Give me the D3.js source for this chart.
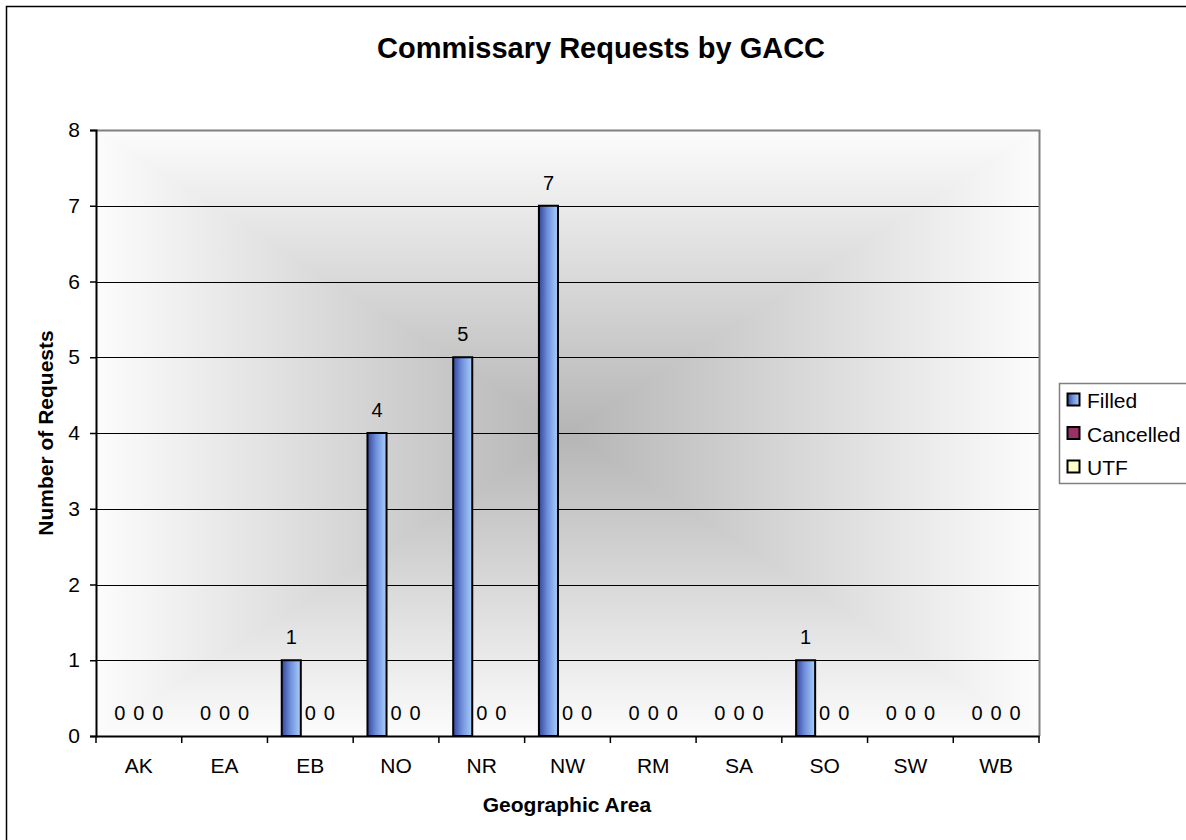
<!DOCTYPE html>
<html>
<head>
<meta charset="utf-8">
<script src="https://cdn.jsdelivr.net/npm/d3@7"></script>
<style>
  html, body { margin: 0; padding: 0; background: #fff; }
  svg { display: block; font-family: Arial, "Liberation Sans", sans-serif; }
</style>
</head>
<body>
<svg id="chart" width="1186" height="840"></svg>
<script>
const categories = ["AK", "EA", "EB", "NO", "NR", "NW", "RM", "SA", "SO", "SW", "WB"];
const seriesNames = ["Filled", "Cancelled", "UTF"];
const filled    = [0, 0, 1, 4, 5, 7, 0, 0, 1, 0, 0];
const cancelled = [0, 0, 0, 0, 0, 0, 0, 0, 0, 0, 0];
const utf       = [0, 0, 0, 0, 0, 0, 0, 0, 0, 0, 0];
const yTicks = [0, 1, 2, 3, 4, 5, 6, 7, 8];
const titleText = "Commissary Requests by GACC";
const xTitle = "Geographic Area";
const yTitle = "Number of Requests";

const seriesValues = [filled, cancelled, utf];
const svg = d3.select("#chart");
const FONT = "Arial, 'Liberation Sans', sans-serif";

// layout
const plot = { left: 96, right: 1039, top: 130, bottom: 736 };

// defs: gradients
const defs = svg.append("defs");
const barGrad = defs.append("linearGradient").attr("id", "barGrad")
  .attr("x1", "0%").attr("x2", "100%").attr("y1", "0%").attr("y2", "0%");
barGrad.append("stop").attr("offset", "0%").attr("stop-color", "#34469a");
barGrad.append("stop").attr("offset", "45%").attr("stop-color", "#6f8fdc");
barGrad.append("stop").attr("offset", "100%").attr("stop-color", "#a9d0fa");

const bgCenter = "#b5b5b5", bgEdge = "#fcfcfc";
function grad(id, x1, y1, x2, y2) {
  const g = defs.append("linearGradient").attr("id", id)
    .attr("x1", x1).attr("y1", y1).attr("x2", x2).attr("y2", y2);
  g.append("stop").attr("offset", "0%").attr("stop-color", bgCenter);
  g.append("stop").attr("offset", "100%").attr("stop-color", bgEdge);
}
grad("gTop", "0%", "100%", "0%", "0%");
grad("gBottom", "0%", "0%", "0%", "100%");
grad("gLeft", "100%", "0%", "0%", "0%");
grad("gRight", "0%", "0%", "100%", "0%");

// outer frame (right/bottom edges fall outside the picture)
svg.append("rect").attr("x", 6.5).attr("y", 6.5).attr("width", 1200).attr("height", 860)
  .attr("fill", "#fff").attr("stroke", "#000").attr("stroke-width", 1.5);

// plot background: rectangular "from center" gradient built from 4 triangles
const cx = (plot.left + plot.right) / 2, cy = (plot.top + plot.bottom) / 2;
const L = plot.left, R = plot.right, T = plot.top, B = plot.bottom;
const bg = svg.append("g");
const tris = [
  { d: `M${L},${T}L${R},${T}L${cx},${cy}Z`, g: "gTop" },
  { d: `M${L},${B}L${R},${B}L${cx},${cy}Z`, g: "gBottom" },
  { d: `M${L},${T}L${L},${B}L${cx},${cy}Z`, g: "gLeft" },
  { d: `M${R},${T}L${R},${B}L${cx},${cy}Z`, g: "gRight" }
];
bg.selectAll("path").data(tris).join("path")
  .attr("d", d => d.d)
  .attr("fill", d => `url(#${d.g})`)
  .attr("stroke", d => `url(#${d.g})`)
  .attr("stroke-width", 1.2)
  .attr("stroke-linejoin", "bevel");

// scales
const y = d3.scaleLinear().domain([0, 8]).range([plot.bottom, plot.top]);
const x0 = d3.scaleBand().domain(categories).range([plot.left, plot.right]).padding(0);
const bw = x0.bandwidth();
const gap = bw * 1.5 / 4.5;
const x1 = d3.scaleBand().domain(seriesNames).range([gap / 2, bw - gap / 2]).padding(0);

// gridlines
svg.append("g").selectAll("line").data(yTicks.filter(d => d > 0 && d < 8)).join("line")
  .attr("x1", plot.left).attr("x2", plot.right)
  .attr("y1", d => Math.round(y(d)) + 0.5).attr("y2", d => Math.round(y(d)) + 0.5)
  .attr("stroke", "#000").attr("stroke-width", 1);

// plot border top/right (gray)
svg.append("path")
  .attr("d", `M${plot.left},${Math.round(y(8)) + 0.5}H${plot.right + 0.5}V${plot.bottom}`)
  .attr("fill", "none").attr("stroke", "#808080").attr("stroke-width", 2);

// bars
const colors = { Filled: "url(#barGrad)", Cancelled: "#993366", UTF: "#ffffcc" };
const barData = [];
categories.forEach((c, i) => {
  seriesNames.forEach((s, j) => barData.push({ cat: c, series: s, value: seriesValues[j][i] }));
});
svg.append("g").selectAll("rect").data(barData.filter(d => d.value > 0)).join("rect")
  .attr("x", d => x0(d.cat) + x1(d.series))
  .attr("y", d => y(d.value))
  .attr("width", x1.bandwidth())
  .attr("height", d => y(0) - y(d.value))
  .attr("fill", d => colors[d.series])
  .attr("stroke", "#000").attr("stroke-width", 2);

// data labels
svg.append("g").selectAll("text").data(barData).join("text")
  .attr("x", d => x0(d.cat) + x1(d.series) + x1.bandwidth() / 2)
  .attr("y", d => y(d.value) - 16)
  .attr("text-anchor", "middle")
  .attr("font-size", 20).attr("fill", "#000")
  .text(d => d.value);

// y axis
const yAxis = svg.append("g").attr("transform", `translate(${plot.left},0)`)
  .call(d3.axisLeft(y).tickValues(yTicks).tickFormat(d3.format("d")).tickSize(6).tickPadding(10));
yAxis.select(".domain").attr("stroke", "#000").attr("stroke-width", 2);
yAxis.selectAll(".tick line").attr("stroke", "#000").attr("stroke-width", 1.5);
yAxis.selectAll(".tick text").attr("font-size", 21).attr("fill", "#000")
  .attr("font-family", FONT);

// x axis
const xAxis = svg.append("g").attr("transform", `translate(0,${plot.bottom})`)
  .call(d3.axisBottom(x0).tickSize(0));
xAxis.select(".domain").attr("stroke", "#000").attr("stroke-width", 2);
xAxis.selectAll(".tick text").attr("font-size", 21).attr("fill", "#000")
  .attr("font-family", FONT).attr("y", 37).attr("dy", 0);
// tick marks at band boundaries
svg.append("g").selectAll("line").data(d3.range(categories.length + 1)).join("line")
  .attr("x1", i => plot.left + i * bw).attr("x2", i => plot.left + i * bw)
  .attr("y1", plot.bottom).attr("y2", plot.bottom + 7)
  .attr("stroke", "#000").attr("stroke-width", 1.5);

// titles
svg.append("text").attr("x", 601).attr("y", 58).attr("text-anchor", "middle")
  .attr("font-size", 29).attr("font-weight", "bold").text(titleText);
svg.append("text").attr("x", 567).attr("y", 812).attr("text-anchor", "middle")
  .attr("font-size", 21).attr("font-weight", "bold").text(xTitle);
svg.append("text").attr("transform", `translate(53,${(plot.top + plot.bottom) / 2}) rotate(-90)`)
  .attr("text-anchor", "middle").attr("font-size", 21).attr("font-weight", "bold").text(yTitle);

// legend
const lg = svg.append("g");
lg.append("rect").attr("x", 1059.5).attr("y", 383.5).attr("width", 140).attr("height", 100)
  .attr("fill", "#fff").attr("stroke", "#808080").attr("stroke-width", 1.5);
const items = lg.selectAll("g.item").data(seriesNames).join("g").attr("class", "item")
  .attr("transform", (d, i) => `translate(1067,${400 + i * 33.5})`);
items.append("rect").attr("x", 0.5).attr("y", -6.5).attr("width", 12).attr("height", 12)
  .attr("fill", d => colors[d]).attr("stroke", "#000").attr("stroke-width", 2);
items.append("text").attr("x", 20).attr("y", 8).attr("font-size", 21).text(d => d);
</script>
</body>
</html>
